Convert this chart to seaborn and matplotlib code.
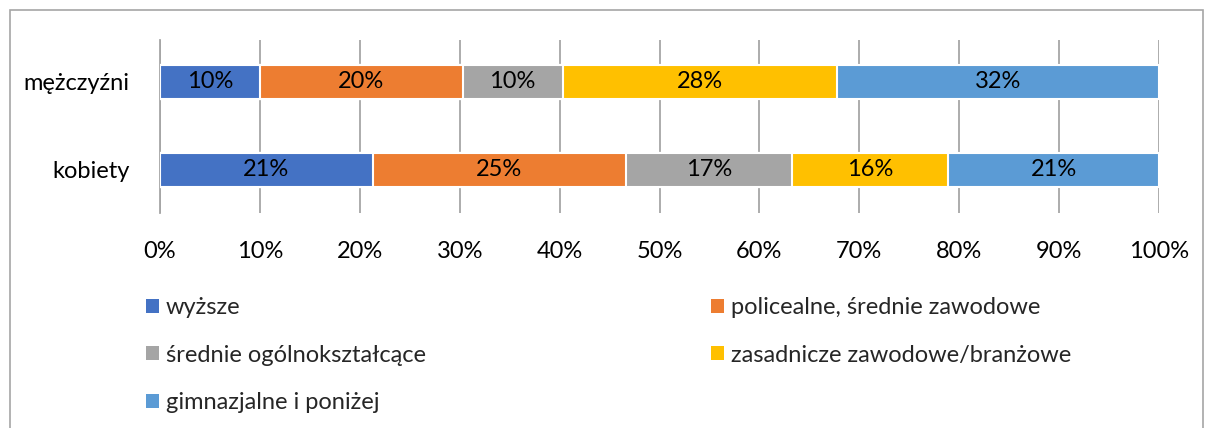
import matplotlib
matplotlib.use("Agg")
import matplotlib.pyplot as plt
import seaborn as sns
import pandas as pd
import numpy as np
from matplotlib.patches import Rectangle, Patch

categories = ["mężczyźni", "kobiety"]
series_names = ["wyższe", "policealne, średnie zawodowe", "średnie ogólnokształcące",
                "zasadnicze zawodowe/branżowe", "gimnazjalne i poniżej"]
men = [10.0, 20.3, 10.0, 27.5, 32.2]
women = [21.3, 25.3, 16.7, 15.6, 21.1]
labels_men = ["10%", "20%", "10%", "28%", "32%"]
labels_women = ["21%", "25%", "17%", "16%", "21%"]
colors = ["#4472C4", "#ED7D31", "#A5A5A5", "#FFC000", "#5B9BD5"]
xticks = [0, 10, 20, 30, 40, 50, 60, 70, 80, 90, 100]

sns.set_theme(style="white")
plt.rcParams['font.family'] = ['Lato', 'DejaVu Sans']
FS = 17

fig = plt.figure(figsize=(12.05, 4.28), dpi=100)
ax = fig.add_axes([160/1205, 1-213/428, (1159-160)/1205, (213-40)/428])

vals = np.array([men, women])
cum = np.cumsum(vals, axis=1)
for i in range(len(series_names)-1, -1, -1):
    df = pd.DataFrame({"cat": categories, "v": cum[:, i]})
    sns.barplot(data=df, y="cat", x="v", orient="h", color=colors[i],
                width=0.386, edgecolor="white", linewidth=1.5, ax=ax,
                saturation=1, zorder=3)

for r, labs in enumerate([labels_men, labels_women]):
    starts = np.concatenate([[0], cum[r, :-1]])
    for j, lab in enumerate(labs):
        ax.text(starts[j] + vals[r, j]/2, r, lab, ha="center", va="center",
                fontsize=FS, color="#000000", zorder=5)

ax.set_xlim(0, 100)
ax.set_ylim(1.49, -0.477)
ax.set_xticks(xticks)
ax.set_xticklabels([f"{t}%" for t in xticks], fontsize=FS, color="#000000")
ax.tick_params(axis="x", length=0, pad=20)
ax.tick_params(axis="y", length=0, pad=22, labelsize=FS, labelcolor="#000000")
ax.set_xlabel("")
ax.set_ylabel("")
ax.grid(axis="x", color="#A6A6A6", linewidth=1.3, zorder=0)
ax.grid(axis="y", visible=False)
for s in ["top", "right", "bottom"]:
    ax.spines[s].set_visible(False)
ax.spines["left"].set_color("#A6A6A6")
ax.spines["left"].set_linewidth(1.3)

handles = [Patch(facecolor=c, edgecolor="none") for c in colors]
leg_kw = dict(frameon=False, fontsize=FS, handlelength=0.55, handleheight=0.55,
              handletextpad=0.3, labelspacing=1.13, borderaxespad=0, borderpad=0,
              loc="upper left")
l1 = fig.legend([handles[i] for i in (0, 2, 4)], [series_names[i] for i in (0, 2, 4)],
                bbox_to_anchor=(146/1205, 1-297/428), **leg_kw)
l2 = fig.legend([handles[i] for i in (1, 3)], [series_names[i] for i in (1, 3)],
                bbox_to_anchor=(711/1205, 1-297/428), **leg_kw)

fig.patches.append(Rectangle((10/1205, -0.05), 1193/1205, 1.05-10/428, transform=fig.transFigure,
                             fill=False, edgecolor="#A6A6A6", linewidth=1.2))

fig.savefig("out.png", dpi=100)
